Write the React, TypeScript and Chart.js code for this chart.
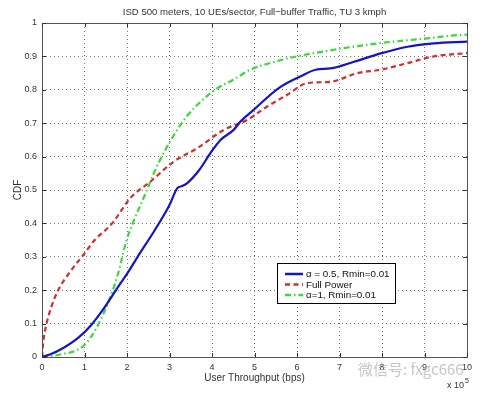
import React, { useEffect, useRef } from 'react';
import { Chart, registerables } from 'chart.js';

Chart.register(...registerables);

// ---- data (throughput in units of 10^5 bps) ----
const throughputTicks = [0, 1, 2, 3, 4, 5, 6, 7, 8, 9, 10];
const cdfTicks = [0, 0.1, 0.2, 0.3, 0.4, 0.5, 0.6, 0.7, 0.8, 0.9, 1];

const alpha05X = [0, 0.2, 0.5, 0.85, 1.16, 1.48, 1.79, 2.03, 2.25, 2.63, 3.0, 3.18, 3.3, 3.41, 3.7, 3.96, 4.2, 4.51, 4.67, 4.98, 5.57, 6.08, 6.44, 6.79, 7.34, 7.97, 8.6, 9.22, 10];
const alpha05Y = [0, 0.008, 0.027, 0.057, 0.096, 0.15, 0.21, 0.255, 0.3, 0.375, 0.455, 0.505, 0.512, 0.52, 0.56, 0.61, 0.65, 0.68, 0.705, 0.74, 0.805, 0.84, 0.86, 0.864, 0.884, 0.909, 0.929, 0.939, 0.944];

const fullPowerX = [0, 0.03, 0.1, 0.22, 0.38, 0.69, 0.97, 1.24, 1.65, 2.08, 2.55, 3.1, 3.65, 4.28, 4.83, 5.3, 5.77, 6.24, 6.79, 7.42, 7.97, 8.6, 9.22, 10];
const fullPowerY = [0, 0.045, 0.096, 0.15, 0.2, 0.26, 0.305, 0.35, 0.4, 0.476, 0.525, 0.585, 0.625, 0.68, 0.71, 0.75, 0.785, 0.82, 0.824, 0.85, 0.86, 0.88, 0.9, 0.91];

const alpha1X = [0, 0.38, 1.0, 1.28, 1.6, 1.79, 1.99, 2.15, 2.47, 2.63, 2.9, 3.18, 3.4, 3.73, 4.12, 4.5, 4.9, 5.5, 6.0, 6.87, 7.97, 9.07, 9.78, 10];
const alpha1Y = [0, 0.006, 0.036, 0.087, 0.177, 0.25, 0.35, 0.405, 0.5, 0.55, 0.62, 0.68, 0.72, 0.764, 0.804, 0.83, 0.86, 0.885, 0.9, 0.92, 0.94, 0.954, 0.964, 0.965];

const seriesNames = ['α = 0.5, Rmin=0.01', 'Full Power', 'α=1, Rmin=0.01'];
const seriesColors = ['#1414c8', '#dc2a2a', '#36dc36'];
const seriesDashes = [[], [5, 3.5], [6, 3, 1.5, 3]];
const seriesTension = [0.15, 0.3, 0.3];

const titleText = 'ISD 500 meters, 10 UEs/sector, Full\u2212buffer Traffic, TU 3 kmph';
const xLabelText = 'User Throughput (bps)';
const yLabelText = 'CDF';
const watermarkText = '微信号: fxgc666';

const FONT = '"Liberation Sans", Arial, Helvetica, sans-serif';

const pts = (xs: number[], ys: number[]) => xs.map((x, i) => ({ x, y: ys[i] }));

const overlayPlugin = {
  id: 'matlabOverlay',
  afterDraw(chart: any) {
    const { ctx, chartArea } = chart;
    const { left, top, right, bottom } = chartArea;
    const xs = chart.scales.x;
    const ys = chart.scales.y;
    ctx.save();
    ctx.setLineDash([]);
    // frame
    ctx.strokeStyle = '#555';
    ctx.lineWidth = 1;
    ctx.strokeRect(left + 0.5, top + 0.5, right - left, bottom - top);
    // inward ticks
    ctx.strokeStyle = '#333';
    ctx.beginPath();
    throughputTicks.forEach((v) => {
      const p = Math.round(xs.getPixelForValue(v)) + 0.5;
      ctx.moveTo(p, bottom);
      ctx.lineTo(p, bottom - 4);
      ctx.moveTo(p, top);
      ctx.lineTo(p, top + 4);
    });
    cdfTicks.forEach((v) => {
      const p = Math.round(ys.getPixelForValue(v)) + 0.5;
      ctx.moveTo(left, p);
      ctx.lineTo(left + 4, p);
      ctx.moveTo(right, p);
      ctx.lineTo(right - 4, p);
    });
    ctx.stroke();

    // legend
    const lx = 277, ly = 263, lw = 118, lh = 40;
    ctx.fillStyle = '#fff';
    ctx.fillRect(lx, ly, lw, lh);
    ctx.strokeStyle = '#000';
    ctx.strokeRect(lx + 0.5, ly + 0.5, lw, lh);
    ctx.font = `9.8px ${FONT}`;
    ctx.textBaseline = 'middle';
    ctx.textAlign = 'left';
    seriesNames.forEach((name, i) => {
      const yy = ly + 11 + i * 10.5;
      ctx.strokeStyle = seriesColors[i];
      ctx.lineWidth = 2.5;
      ctx.setLineDash(seriesDashes[i]);
      ctx.beginPath();
      ctx.moveTo(285, yy);
      ctx.lineTo(303, yy);
      ctx.stroke();
      ctx.setLineDash([]);
      ctx.fillStyle = '#111';
      ctx.fillText(name, 306, yy + 0.5);
    });

    // texts
    ctx.fillStyle = '#333';
    ctx.textAlign = 'center';
    ctx.textBaseline = 'middle';
    ctx.font = `9.6px ${FONT}`;
    ctx.fillText(titleText, (left + right) / 2, 12);
    ctx.font = `10px ${FONT}`;
    ctx.fillText(xLabelText, (left + right) / 2, 378);
    ctx.save();
    ctx.translate(18, (top + bottom) / 2);
    ctx.rotate(-Math.PI / 2);
    ctx.fillText(yLabelText, 0, 0);
    ctx.restore();
    ctx.textAlign = 'left';
    ctx.font = `9px ${FONT}`;
    ctx.fillText('x 10', 447, 386);
    ctx.font = `7px ${FONT}`;
    ctx.fillText('5', 465, 381);

    // watermark
    ctx.fillStyle = 'rgba(175,175,175,0.7)';
    ctx.font = `15px "Noto Sans CJK SC", sans-serif`;
    ctx.textAlign = 'left';
    ctx.fillText(watermarkText, 358, 369);
    ctx.restore();
  },
};

export default function App() {
  const ref = useRef<HTMLCanvasElement | null>(null);
  useEffect(() => {
    if (!ref.current) return;
    const tickFont = { family: FONT, size: 9 };
    const chart = new Chart(ref.current, {
      type: 'scatter',
      data: {
        datasets: [
          { data: pts(alpha05X, alpha05Y) },
          { data: pts(fullPowerX, fullPowerY) },
          { data: pts(alpha1X, alpha1Y) },
        ].map((d, i) => ({
          ...d,
          label: seriesNames[i],
          showLine: true,
          borderColor: seriesColors[i],
          backgroundColor: seriesColors[i],
          borderWidth: 2.2,
          borderDash: seriesDashes[i],
          pointRadius: 0,
          tension: seriesTension[i],
          cubicInterpolationMode: 'monotone',
          fill: false,
        })),
      },
      options: {
        responsive: false,
        animation: false,
        devicePixelRatio: 1,
        layout: { padding: { left: 0, top: 23, right: 24, bottom: 0 } },
        plugins: { legend: { display: false }, title: { display: false }, tooltip: { enabled: false } },
        scales: {
          x: {
            type: 'linear',
            min: 0,
            max: 10,
            afterBuildTicks: (s: any) => { s.ticks = throughputTicks.map((v) => ({ value: v })); },
            afterFit: (s: any) => { s.height = 37; },
            ticks: { font: tickFont, color: '#333', padding: 5, maxRotation: 0, autoSkip: false, callback: (v: any) => String(v) },
            grid: { color: '#777', lineWidth: 1, drawTicks: false },
            border: { display: false, dash: [1, 3] },
          },
          y: {
            type: 'linear',
            min: 0,
            max: 1,
            afterBuildTicks: (s: any) => { s.ticks = cdfTicks.map((v) => ({ value: v })); },
            afterFit: (s: any) => { s.width = 42; },
            ticks: {
              font: tickFont,
              color: '#333',
              padding: 5,
              autoSkip: false,
              callback: (v: any) => (v === 0 ? '0' : v === 1 ? '1' : Number(v).toFixed(1)),
            },
            grid: { color: '#777', lineWidth: 1, drawTicks: false },
            border: { display: false, dash: [1, 3] },
          },
        },
      },
      plugins: [overlayPlugin],
    } as any);
    return () => chart.destroy();
  }, []);
  return (
    <div style={{ position: 'absolute', left: 0, top: 0, width: 491, height: 394, background: '#fff' }}>
      <canvas ref={ref} width={491} height={394} style={{ display: 'block' }} />
    </div>
  );
}
